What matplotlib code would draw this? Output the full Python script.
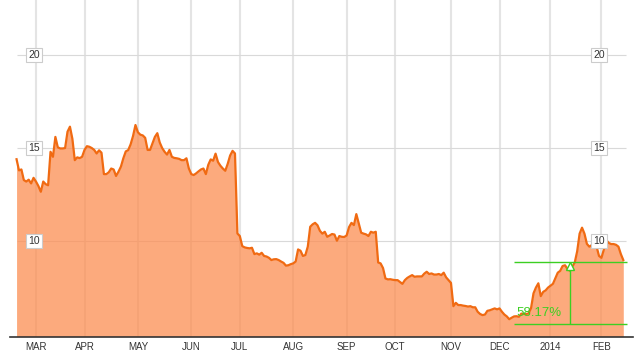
import numpy as np
import pandas as pd
import matplotlib
matplotlib.use('Agg')
import matplotlib.pyplot as plt
import matplotlib.transforms as mtransforms

plt.rcParams['font.family'] = ['Liberation Sans', 'DejaVu Sans']

# exchange holidays inside the range (trading-day axis)
holidays = ['2013-03-29', '2013-05-27', '2013-07-04', '2013-09-02',
            '2013-11-28', '2013-12-25', '2014-01-01', '2014-01-20']

# daily closes, from 2013-02-19
prices = [
    14.40, 13.80, 13.85, 13.28, 13.20, 13.30, 13.10, 13.40, 13.20, 12.96,
    12.65, 13.20, 13.06, 13.00, 14.80, 14.53, 15.60, 15.04, 14.98, 14.98,
    15.00, 15.88, 16.15, 15.50, 14.35, 14.50, 14.46, 14.53, 14.90, 15.10,
    15.07, 15.00, 14.90, 14.71, 14.88, 14.75, 13.60, 13.60, 13.70, 13.90,
    13.85, 13.50, 13.73, 14.00, 14.45, 14.82, 14.89, 15.20, 15.65, 16.24,
    15.85, 15.72, 15.68, 15.55, 14.90, 14.90, 15.25, 15.60, 15.80, 15.30,
    15.00, 14.80, 14.65, 14.90, 14.53, 14.47, 14.45, 14.42, 14.35, 14.35,
    14.45, 13.90, 13.60, 13.55, 13.64, 13.75, 13.85, 13.90, 13.60, 14.10,
    14.39, 14.32, 14.70, 14.25, 14.05, 13.90, 13.78, 14.15, 14.60, 14.85,
    14.71, 10.41, 10.27, 9.73, 9.66, 9.63, 9.61, 9.64, 9.30, 9.34,
    9.27, 9.37, 9.20, 9.17, 9.10, 8.98, 9.02, 9.03, 8.98, 8.90,
    8.83, 8.68, 8.70, 8.76, 8.80, 8.90, 9.55, 9.48, 9.20, 9.25,
    9.70, 10.77, 10.90, 10.98, 10.85, 10.55, 10.40, 10.50, 10.23, 10.30,
    10.38, 10.35, 10.02, 10.27, 10.23, 10.22, 10.30, 10.75, 10.98, 10.86,
    11.45, 10.95, 10.45, 10.40, 10.36, 10.27, 10.50, 10.45, 10.50, 8.85,
    8.80, 8.55, 7.99, 7.94, 7.95, 7.92, 7.90, 7.90, 7.80, 7.70,
    7.90, 8.02, 8.10, 8.17, 8.08, 8.10, 8.10, 8.10, 8.25, 8.35,
    8.23, 8.26, 8.20, 8.20, 8.23, 8.17, 8.30, 8.05, 7.90, 7.75,
    6.50, 6.68, 6.56, 6.56, 6.53, 6.51, 6.48, 6.50, 6.44, 6.44,
    6.20, 6.08, 6.02, 6.05, 6.25, 6.28, 6.33, 6.38, 6.33, 6.38,
    6.20, 6.05, 5.95, 5.80, 5.88, 5.95, 5.96, 5.93, 6.10, 6.08,
    6.08, 6.11, 6.40, 7.19, 7.50, 7.73, 7.04, 7.27, 7.35, 7.50,
    7.60, 7.70, 8.00, 8.30, 8.40, 8.66, 8.70, 8.50, 8.40, 8.62,
    8.85, 9.45, 10.40, 10.72, 10.40, 9.85, 9.70, 9.78, 10.00, 9.70,
    9.20, 9.10, 9.55, 10.05, 9.90, 9.84, 9.84, 9.80, 9.70, 9.30,
    8.98,
]
y_ticks = [10, 15, 20]

# measuring tool overlay
measure_dates = ['2013-12-10', '2014-01-14']
measure_low = 5.55
measure_high = 8.86
measure_label = '58.17%'

dates = pd.bdate_range('2013-02-19', periods=len(prices), freq='C', holidays=holidays)
idx = np.arange(len(prices))

months = dates.to_period('M')
starts = [i for i in range(1, len(dates)) if months[i] != months[i - 1]]
labels = ['2014' if dates[i].month == 1 else dates[i].strftime('%b').upper() for i in starts]

fig = plt.figure(figsize=(6.43, 3.56), dpi=100)
ax = fig.add_axes([10 / 643, 19.5 / 356, 623 / 643, 336.5 / 356])
ax.set_xlim(-2.7, 254.0)
ax.set_ylim(4.87, 22.96)

# grid
ax.vlines(starts, 4.87, 22.96, color='#e4e4e4', lw=1.5, zorder=0)
ax.hlines(y_ticks, 0, len(prices) + 0.3, color='#d9d9d9', lw=0.8, zorder=0)

# price area
ax.fill_between(idx, prices, 4.87, color='#fc8e52', alpha=0.75, lw=0, zorder=1)
ax.plot(idx, prices, color='#f06a12', lw=1.6, zorder=2)

# y labels in little boxes, both sides
trans = mtransforms.blended_transform_factory(ax.transAxes, ax.transData)
for v in y_ticks:
    for xa in (0.0385, 0.946):
        ax.text(xa, v, str(v), transform=trans, ha='center', va='center',
                fontsize=7.5, color='#333333', zorder=5,
                bbox=dict(boxstyle='square,pad=0.2', fc='white', ec='#cccccc', lw=0.8))

# measurement overlay
green = '#3ccf22'
m0 = dates.get_loc(pd.Timestamp(measure_dates[0]))
m1 = dates.get_loc(pd.Timestamp(measure_dates[1]))
m_end = len(prices) + 0.5
ax.hlines([measure_low, measure_high], m0, m_end, color=green, lw=1, zorder=4)
ax.vlines(m1, measure_low, measure_high, color=green, lw=1, zorder=4)
ax.plot(m1, measure_high - 0.18, marker='^', ms=6, mfc='white', mec=green, mew=1, zorder=5)
ax.annotate(measure_label, xy=(m0, measure_low), xytext=(2, 11), textcoords='offset pixels',
            ha='left', va='center', fontsize=9.5, color=green, zorder=5)

# axes styling
for s in ['top', 'left', 'right']:
    ax.spines[s].set_visible(False)
ax.spines['bottom'].set_color('#333333')
ax.spines['bottom'].set_linewidth(1.2)
ax.set_xticks(starts, labels)
ax.set_yticks([])
ax.tick_params(axis='x', length=0, pad=4, labelsize=7, labelcolor='#333333')

fig.savefig('out.png', dpi=100)
